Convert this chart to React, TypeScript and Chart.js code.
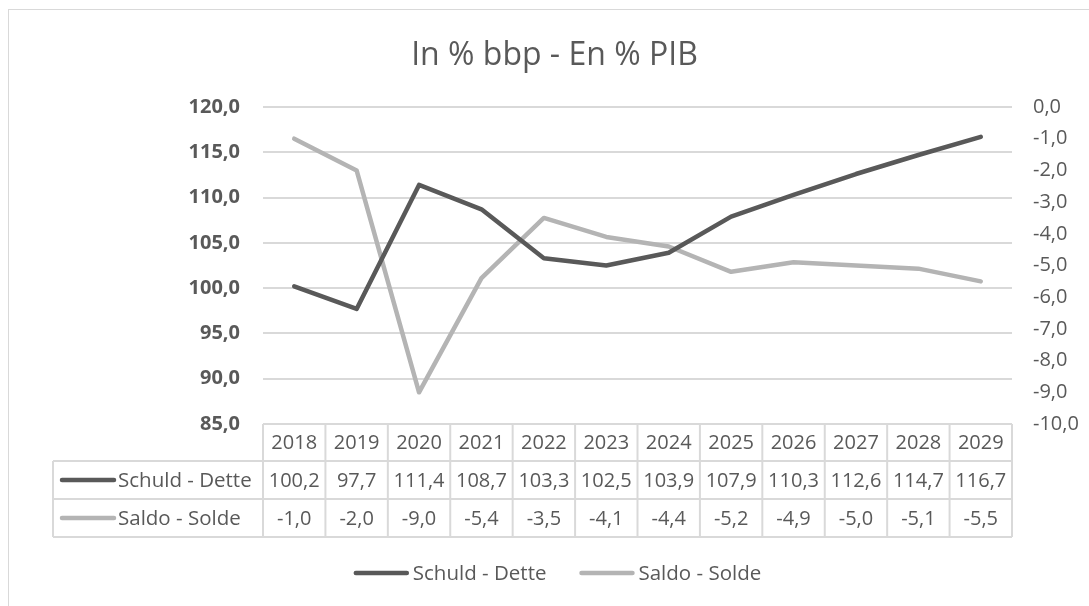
import React, { useEffect, useRef } from 'react';
import { Chart, registerables } from 'chart.js';

Chart.register(...registerables);

const chartTitle = 'In % bbp - En % PIB';
const years = ['2018', '2019', '2020', '2021', '2022', '2023', '2024', '2025', '2026', '2027', '2028', '2029'];
const schuld = [100.2, 97.7, 111.4, 108.7, 103.3, 102.5, 103.9, 107.9, 110.3, 112.6, 114.7, 116.7];
const saldo = [-1.0, -2.0, -9.0, -5.4, -3.5, -4.1, -4.4, -5.2, -4.9, -5.0, -5.1, -5.5];
const seriesNames = ['Schuld - Dette', 'Saldo - Solde'];
const seriesColors = ['#595959', '#b4b4b4'];
const leftAxis = { min: 85, max: 120, step: 5 };
const rightAxis = { min: -10, max: 0, step: 1 };

const FONT = '"Open Sans", "Noto Sans", sans-serif';
const TEXT = '#595959';
const GRID = '#d9d9d9';

const fmt = (v: number) => v.toFixed(1).replace('.', ',');

const tablePlugin = {
  id: 'dataTable',
  afterDraw(chart: any) {
    const { ctx, chartArea } = chart;
    const xs = chart.scales.x;
    const n = years.length;
    const cw = (chartArea.right - chartArea.left) / n;
    const top = chartArea.bottom;
    const rows = [top, top + 37, top + 75, top + 113];
    const legLeft = 44;
    const line = (x1: number, y1: number, x2: number, y2: number) => {
      ctx.beginPath();
      ctx.moveTo(x1, y1);
      ctx.lineTo(x2, y2);
      ctx.stroke();
    };
    ctx.save();
    // Title
    ctx.fillStyle = TEXT;
    ctx.font = `32px ${FONT}`;
    ctx.textAlign = 'center';
    ctx.textBaseline = 'alphabetic';
    ctx.fillText(chartTitle, 545.5, 55);

    // Table borders
    ctx.strokeStyle = GRID;
    ctx.lineWidth = 2;
    line(chartArea.left, rows[0], chartArea.right, rows[0]);
    for (let r = 1; r < 4; r++) line(legLeft, rows[r], chartArea.right, rows[r]);
    for (let i = 0; i <= n; i++) {
      const xb = i < n ? xs.getPixelForValue(i) - cw / 2 : chartArea.right;
      line(xb, rows[0], xb, rows[3]);
    }
    line(legLeft, rows[1], legLeft, rows[3]);

    // Table text
    ctx.fillStyle = TEXT;
    ctx.font = `20px ${FONT}`;
    ctx.textAlign = 'center';
    ctx.textBaseline = 'middle';
    const mid = (r: number) => (rows[r] + rows[r + 1]) / 2 + 1;
    years.forEach((y, i) => ctx.fillText(y, xs.getPixelForValue(i), mid(0)));
    schuld.forEach((v, i) => ctx.fillText(fmt(v), xs.getPixelForValue(i), mid(1)));
    saldo.forEach((v, i) => ctx.fillText(fmt(v), xs.getPixelForValue(i), mid(2)));

    // Legend keys in table
    ctx.lineCap = 'round';
    ctx.lineWidth = 4.5;
    seriesNames.forEach((name, k) => {
      const y = mid(k + 1) - 1;
      ctx.strokeStyle = seriesColors[k];
      line(53, y, 105, y);
      ctx.fillStyle = TEXT;
      ctx.textAlign = 'left';
      ctx.font = `20.5px ${FONT}`;
      ctx.fillText(name, 109, y + 1);
    });

    // Bottom legend
    ctx.font = `20.5px ${FONT}`;
    const lw = 55;
    const gap = 4;
    const itemGap = 33;
    const widths = seriesNames.map((s) => ctx.measureText(s).width);
    const total = widths.reduce((a, w) => a + lw + gap + w, 0) + itemGap;
    let cx = 548.5 - total / 2;
    const ly = 563;
    seriesNames.forEach((name, k) => {
      ctx.strokeStyle = seriesColors[k];
      line(cx + 2, ly, cx + lw - 2, ly);
      ctx.fillStyle = TEXT;
      ctx.textAlign = 'left';
      ctx.fillText(name, cx + lw + gap, ly + 1);
      cx += lw + gap + widths[k] + itemGap;
    });
    ctx.restore();
  },
};

function App() {
  const ref = useRef<HTMLCanvasElement | null>(null);
  useEffect(() => {
    if (!ref.current) return;
    const chart = new Chart(ref.current, {
      type: 'line',
      data: {
        labels: years,
        datasets: [
          {
            label: seriesNames[0],
            data: schuld,
            yAxisID: 'y',
            borderColor: seriesColors[0],
            backgroundColor: seriesColors[0],
            borderWidth: 4.5,
            pointRadius: 0,
            tension: 0,
            borderCapStyle: 'round',
            borderJoinStyle: 'round',
          },
          {
            label: seriesNames[1],
            data: saldo,
            yAxisID: 'y1',
            borderColor: seriesColors[1],
            backgroundColor: seriesColors[1],
            borderWidth: 4.5,
            pointRadius: 0,
            tension: 0,
            borderCapStyle: 'round',
            borderJoinStyle: 'round',
          },
        ],
      },
      options: {
        animation: false,
        responsive: false,
        devicePixelRatio: 1,
        layout: { padding: { top: 97, bottom: 182, left: 0, right: 0 } },
        plugins: {
          legend: { display: false },
          title: { display: false },
          tooltip: { enabled: false },
        },
        scales: {
          x: { display: false, offset: true },
          y: {
            position: 'left',
            min: leftAxis.min,
            max: leftAxis.max,
            border: { display: false },
            grid: { color: GRID, lineWidth: 2, drawTicks: false },
            ticks: {
              stepSize: leftAxis.step,
              padding: 23,
              color: TEXT,
              font: { family: FONT, size: 20, weight: 'bold' },
              callback: (v: any) => fmt(Number(v)),
            },
            afterFit: (s: any) => {
              s.width = 254;
            },
          },
          y1: {
            position: 'right',
            min: rightAxis.min,
            max: rightAxis.max,
            border: { display: false },
            grid: { display: false, drawTicks: false },
            ticks: {
              stepSize: rightAxis.step,
              padding: 21,
              color: TEXT,
              font: { family: FONT, size: 20 },
              callback: (v: any) => fmt(Number(v)),
            },
            afterFit: (s: any) => {
              s.width = 77;
            },
          },
        },
      } as any,
      plugins: [tablePlugin],
    });
    return () => chart.destroy();
  }, []);

  return (
    <div
      style={{
        position: 'fixed',
        left: 8,
        top: 9,
        width: 1081,
        height: 597,
        boxSizing: 'border-box',
        borderLeft: `1px solid ${GRID}`,
        borderTop: `1px solid ${GRID}`,
        background: '#fff',
      }}
    >
      <canvas ref={ref} width={1080} height={596} style={{ display: 'block', width: 1080, height: 596 }} />
    </div>
  );
}

export default App;
